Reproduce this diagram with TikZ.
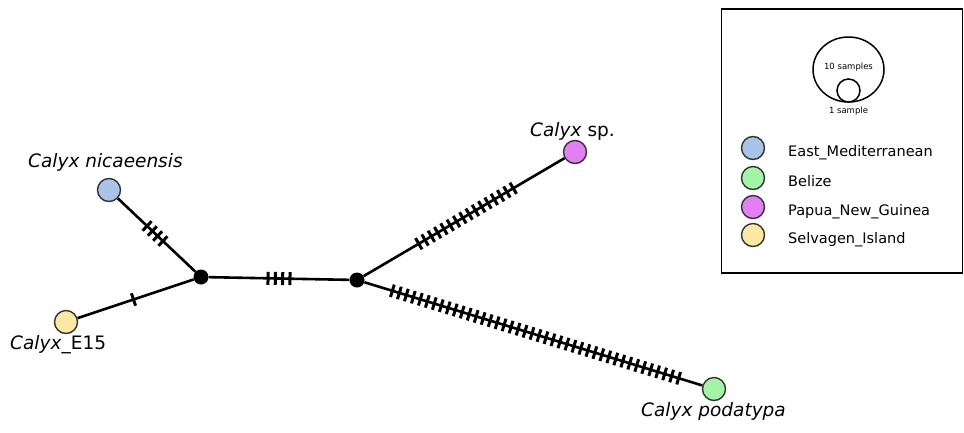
\documentclass[tikz,border=0pt]{standalone}
\usepackage{fontspec}
\setmainfont{DejaVu Sans}
\usetikzlibrary{calc,shapes.geometric}

\definecolor{eastmed}{HTML}{AAC4E8}
\definecolor{belize}{HTML}{A2F5A6}
\definecolor{png}{HTML}{E47EF5}
\definecolor{selvagen}{HTML}{FCE8A2}
\definecolor{rim}{HTML}{333333}

\tikzset{
  sample/.style={circle, draw=rim, line width=1.4pt, minimum size=23pt, inner sep=0pt},
  junction/.style={circle, fill=black, minimum size=15pt, inner sep=0pt},
  edge/.style={line width=2.6pt},
  hatchbar/.style={line width=3pt},
  taxon/.style={font=\fontsize{18.5}{22}\selectfont, inner sep=0pt, anchor=base west},
  legtext/.style={font=\fontsize{14.5}{17}\selectfont, inner sep=0pt, anchor=base west},
  sizetext/.style={font=\fontsize{8.5}{10}\selectfont, inner sep=0pt},
  legring/.style={draw=black, line width=1.5pt, inner sep=0pt}
}

\begin{document}
\begin{tikzpicture}[x=1pt, y=-1pt]
\useasboundingbox (0,0) rectangle (964,432);

% haplotypes and median vectors
\node[sample, fill=eastmed]  (nic) at (109,190) {};
\node[sample, fill=selvagen] (e15) at (66,322) {};
\node[sample, fill=png]      (sp)  at (575,152) {};
\node[sample, fill=belize]   (pod) at (714,389) {};
\node[junction] (j1) at (201,277) {};
\node[junction] (j2) at (357,280) {};

% network edges
\draw[edge] (j1) -- (nic);
\draw[edge] (j1) -- (e15);
\draw[edge] (j1) -- (j2);
\draw[edge] (j2) -- (sp);
\draw[edge] (j2) -- (pod);

% mutation hatch marks, centred on each edge
\foreach \n/\a/\b in {4/j1/nic, 1/j1/e15, 4/j1/j2, 16/j2/sp, 42/j2/pod}{
  \foreach \i in {1,...,\n}{
    \pgfmathsetmacro\off{(\i-(\n+1)/2)*7.3}
    \coordinate (hc) at ($(\a.center)!0.5!(\b.center)$);
    \coordinate (hk) at ($(hc)!\off pt!(\b.center)$);
    \draw[hatchbar] ($(hk)!6.5pt!90:(\b.center)$) -- ($(hk)!6.5pt!-90:(\b.center)$);
  }
}

% taxon labels
\node[taxon] (lnic) at (28,167) {\textit{Calyx nicaeensis}};
\node[taxon] (le15) at (10,349) {\textit{Calyx}\_E15};
\node[taxon] (lsp)  at (530,136) {\textit{Calyx} sp.};
\node[taxon] (lpod) at (641,416) {\textit{Calyx podatypa}};

% legend
\node[draw=black, line width=1.4pt, minimum width=241pt, minimum height=264pt, inner sep=0pt] (legend) at (841.75,141) {};
\node[legring, ellipse, minimum width=71pt, minimum height=65pt] (big) at (848.5,69.5) {};
\node[legring, circle, minimum size=23pt] (small) at (848.5,90.5) {};
\node[sizetext] (t10) at (848.5,67) {10 samples};
\node[sizetext] (t1)  at (848.5,111) {1 sample};

\node[sample, fill=eastmed]  (k1) at (753,148) {};
\node[sample, fill=belize]   (k2) at (753,178) {};
\node[sample, fill=png]      (k3) at (753,207) {};
\node[sample, fill=selvagen] (k4) at (753,235) {};
\node[legtext] (n1) at (788,156.5) {East\_Mediterranean};
\node[legtext] (n2) at (788,186.5) {Belize};
\node[legtext] (n3) at (788,215.5) {Papua\_New\_Guinea};
\node[legtext] (n4) at (788,243.5) {Selvagen\_Island};
\end{tikzpicture}
\end{document}
